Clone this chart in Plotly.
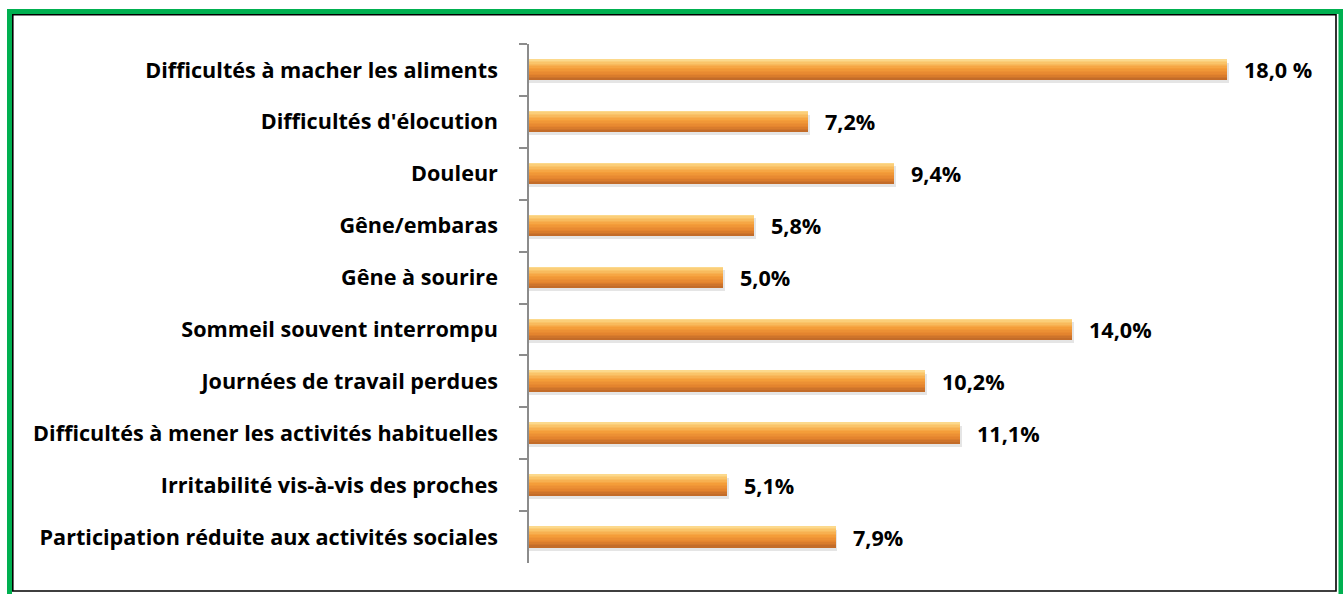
import plotly.graph_objects as go

categories = [
    "Difficultés à macher les aliments",
    "Difficultés d'élocution",
    "Douleur",
    "Gêne/embaras",
    "Gêne à sourire",
    "Sommeil souvent interrompu",
    "Journées de travail perdues",
    "Difficultés à mener les activités habituelles",
    "Irritabilité vis-à-vis des proches",
    "Participation réduite aux activités sociales",
]
values = [18.0, 7.2, 9.4, 5.8, 5.0, 14.0, 10.2, 11.1, 5.1, 7.9]
value_labels = ["18,0 %", "7,2%", "9,4%", "5,8%", "5,0%", "14,0%", "10,2%", "11,1%", "5,1%", "7,9%"]

W, H = 1343, 594
ML, MR, MT, MB = 529, 38, 44, 31
PW, PH = W - ML - MR, H - MT - MB

BAR_H = 0.40
FONT = dict(family="Open Sans", size=21.6, color="black", weight="bold")

# gradient stops (top -> bottom)
stops = [(0.0, (252, 222, 150)), (0.15, (250, 200, 110)), (0.45, (245, 158, 58)),
         (0.75, (228, 132, 46)), (1.0, (190, 104, 40))]


def grad(t):
    for (t0, c0), (t1, c1) in zip(stops[:-1], stops[1:]):
        if t0 <= t <= t1:
            f = (t - t0) / (t1 - t0) if t1 > t0 else 0
            c = [round(a + (b - a) * f) for a, b in zip(c0, c1)]
            return "rgb(%d,%d,%d)" % tuple(c)
    return "rgb(%d,%d,%d)" % stops[-1][1]


fig = go.Figure()

# soft shadow
fig.add_trace(go.Bar(
    y=categories, x=[v + 0.05 for v in values], orientation="h",
    width=BAR_H, offset=-BAR_H / 2 + 0.06,
    marker=dict(color="rgba(0,0,0,0.10)", line=dict(width=0)),
    hoverinfo="skip", showlegend=False,
))

N = 14
for i in range(N):
    t = (i + 0.5) / N
    fig.add_trace(go.Bar(
        y=categories, x=values, orientation="h",
        width=BAR_H / N + 0.002, offset=-BAR_H / 2 + i * BAR_H / N,
        marker=dict(color=grad(t), line=dict(width=0)),
        hoverinfo="skip", showlegend=False,
    ))

for cat, v, lab in zip(categories, values, value_labels):
    fig.add_annotation(x=v, y=cat, text=lab, showarrow=False,
                       xanchor="left", xshift=15, font=FONT)


def px(x):
    return (x - ML) / PW


def py(y):
    return 1 - (y - MT) / PH


shapes = [
    # green outer frame
    dict(type="line", xref="paper", yref="paper", x0=px(9.5), x1=px(9.5), y0=py(9), y1=py(600),
         line=dict(color="#00B050", width=5)),
    dict(type="line", xref="paper", yref="paper", x0=px(7), x1=px(1346), y0=py(11.5), y1=py(11.5),
         line=dict(color="#00B050", width=5)),
    dict(type="line", xref="paper", yref="paper", x0=px(1341), x1=px(1341), y0=py(9), y1=py(600),
         line=dict(color="#00B050", width=5)),
    # black inner frame
    dict(type="rect", xref="paper", yref="paper", x0=px(12.8), x1=px(1336), y0=py(14.8), y1=py(591),
         line=dict(color="black", width=1.6), fillcolor="rgba(0,0,0,0)"),
]

fig.update_layout(
    width=W, height=H,
    margin=dict(l=ML, r=MR, t=MT, b=MB),
    paper_bgcolor="white", plot_bgcolor="white",
    barmode="overlay", bargap=0, showlegend=False,
    shapes=shapes,
    xaxis=dict(range=[0, 20], visible=False, fixedrange=True),
    yaxis=dict(
        autorange="reversed", type="category",
        showline=True, linecolor="#8c8c8c", linewidth=1.5,
        ticks="outside", tickson="boundaries", ticklen=8, tickcolor="#8c8c8c", tickwidth=1.5,
        tickfont=FONT, ticklabelstandoff=25, showgrid=False, zeroline=False, fixedrange=True,
    ),
)

fig.write_html("out.html", config={"displayModeBar": False},
               post_script="document.body.style.margin='0';document.body.style.overflow='hidden';")
